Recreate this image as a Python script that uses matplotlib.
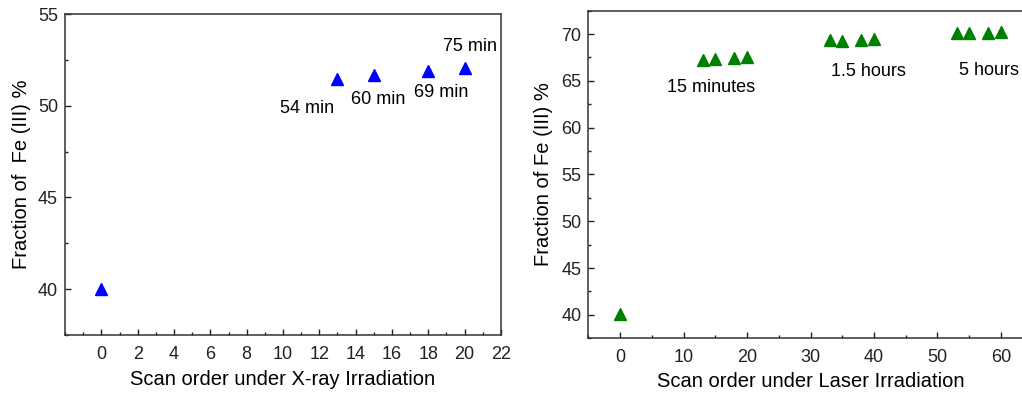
import matplotlib.pyplot as plt
from matplotlib.ticker import MultipleLocator

plt.rcParams["font.family"] = ["Liberation Sans", "DejaVu Sans"]

# X-ray irradiation panel
xray_scan = [0, 13, 15, 18, 20]
xray_fe3 = [40.0, 51.45, 51.65, 51.9, 52.05]
xray_labels = ["54 min", "60 min", "69 min", "75 min"]
xray_label_pos = [(11.3, 49.85), (15.25, 50.35), (18.7, 50.7), (20.3, 53.25)]

# laser irradiation panel
laser_scan = [0, 13, 15, 18, 20, 33, 35, 38, 40, 53, 55, 58, 60]
laser_fe3 = [40.1, 67.2, 67.3, 67.45, 67.5, 69.4, 69.3, 69.4, 69.5,
             70.1, 70.15, 70.15, 70.2]
laser_labels = ["15 minutes", "1.5 hours", "5 hours"]
laser_label_pos = [(14.3, 64.3), (39.1, 66.05), (58.1, 66.15)]

W, H = 1022, 394
fig = plt.figure(figsize=(W / 100, H / 100), dpi=100)


def style(ax, xpad):
    ax.tick_params(which="both", direction="in", top=False, right=False,
                   labelsize=13, colors="#222222", pad=5)
    ax.tick_params(axis="x", pad=xpad)
    ax.tick_params(which="major", length=4.5, width=1)
    ax.tick_params(which="minor", length=2.5, width=1)
    for sp in ax.spines.values():
        sp.set_linewidth(1.1)
        sp.set_color("#333333")


# left panel
ax1 = fig.add_axes([65 / W, 1 - 335 / H, (501 - 65) / W, (335 - 14) / H])
ax1.plot(xray_scan, xray_fe3, ls="none", marker="^", ms=9, color="#0000ff")
for txt, (x, y) in zip(xray_labels, xray_label_pos):
    ax1.text(x, y, txt, ha="center", va="center", fontsize=13)
ax1.set_xlim(-2, 22)
ax1.set_ylim(37.5, 55)
ax1.xaxis.set_major_locator(MultipleLocator(2))
ax1.xaxis.set_minor_locator(MultipleLocator(1))
ax1.yaxis.set_major_locator(MultipleLocator(5))
ax1.yaxis.set_minor_locator(MultipleLocator(2.5))
ax1.set_xticks(range(0, 23, 2))
style(ax1, 8)
ax1.set_xlabel("Scan order under X-ray Irradiation", fontsize=14.5, labelpad=5)
ax1.set_ylabel("Fraction of  Fe (III) %", fontsize=14.5, labelpad=5)

# right panel (right edge runs off the image)
x0, x1 = 588.3, 1032.7
ax2 = fig.add_axes([x0 / W, 1 - 338.3 / H, (x1 - x0) / W, (338.3 - 10.7) / H])
ax2.plot(laser_scan, laser_fe3, ls="none", marker="^", ms=9, color="#008000")
for txt, (x, y) in zip(laser_labels, laser_label_pos):
    ax2.text(x, y, txt, ha="center", va="center", fontsize=13)
ax2.set_xlim(-5, 65)
ax2.set_ylim(37.5, 72.5)
ax2.xaxis.set_major_locator(MultipleLocator(10))
ax2.xaxis.set_minor_locator(MultipleLocator(5))
ax2.yaxis.set_major_locator(MultipleLocator(5))
ax2.yaxis.set_minor_locator(MultipleLocator(2.5))
ax2.set_xticks(range(0, 61, 10))
style(ax2, 8)
ax2.set_xlabel("Scan order under Laser Irradiation", fontsize=14.5, labelpad=4)
ax2.set_ylabel("Fraction of Fe (III) %", fontsize=14.5, labelpad=6)

fig.savefig("out.png", dpi=100)
